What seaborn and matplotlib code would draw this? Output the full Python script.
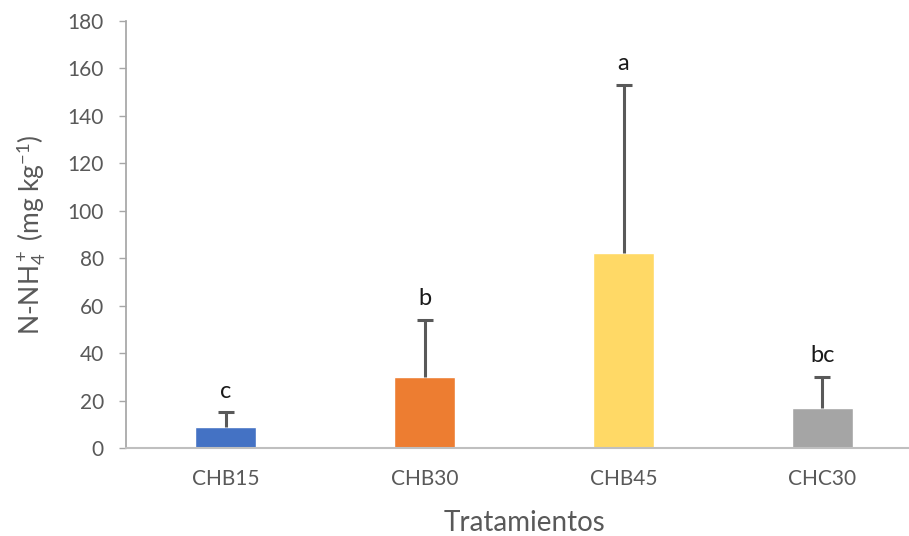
import matplotlib
matplotlib.use("Agg")
import matplotlib.pyplot as plt
import seaborn as sns
import pandas as pd

# Treatments, mean N-NH4+ and upper standard deviation
tratamientos = ["CHB15", "CHB30", "CHB45", "CHC30"]
medias = [9, 30, 82, 17]
desvios = [6, 24, 71, 13]
letras = ["c", "b", "a", "bc"]
colores = ["#4472C4", "#ED7D31", "#FFD966", "#A5A5A5"]

sns.set_theme(style="white")
plt.rcParams["font.family"] = ["Lato", "DejaVu Sans"]
plt.rcParams["mathtext.fontset"] = "custom"
plt.rcParams["mathtext.rm"] = "Lato"
plt.rcParams["mathtext.it"] = "Lato:italic"
plt.rcParams["mathtext.bf"] = "Lato:bold"

df = pd.DataFrame({"trat": tratamientos, "media": medias})

W, H = 909, 536
fig = plt.figure(figsize=(W / 100, H / 100), dpi=100)
ax = fig.add_axes([126 / W, 88 / H, (922 - 126) / W, 427 / H])

sns.barplot(data=df, x="trat", y="media", hue="trat", palette=colores,
            width=0.31, legend=False, ax=ax, saturation=1)

# upper-only error bars: drop the lower caps
xs = range(len(tratamientos))
eb = ax.errorbar(xs, medias, yerr=[[0] * len(desvios), desvios], fmt="none",
                 ecolor="#595959", elinewidth=2.2, capsize=6, capthick=2.2, zorder=3)
eb.lines[1][0].remove()

for x, m, d, l in zip(xs, medias, desvios, letras):
    ax.text(x, m + d + 4.5, l, ha="center", va="bottom", fontsize=17, color="#1a1a1a")

ax.set_ylim(0, 180)
ax.set_xlim(-0.5, 3.5)
ax.set_yticks(range(0, 181, 20))
ax.tick_params(axis="y", left=True, length=5, width=1, color="#A6A6A6",
               labelsize=15, labelcolor="#595959", pad=11)
ax.tick_params(axis="x", bottom=False, labelsize=15, labelcolor="#595959", pad=9)

for s in ["top", "right"]:
    ax.spines[s].set_visible(False)
ax.spines["left"].set_color("#A6A6A6")
ax.spines["bottom"].set_color("#BFBFBF")
ax.spines["bottom"].set_linewidth(1.5)

ax.set_xlabel("Tratamientos", fontsize=20, color="#595959", labelpad=15)
ax.set_ylabel(r"N-NH$_4^+$ (mg kg$^{-1}$)", fontsize=19, color="#595959", labelpad=14)

fig.savefig("out.png", dpi=100)
